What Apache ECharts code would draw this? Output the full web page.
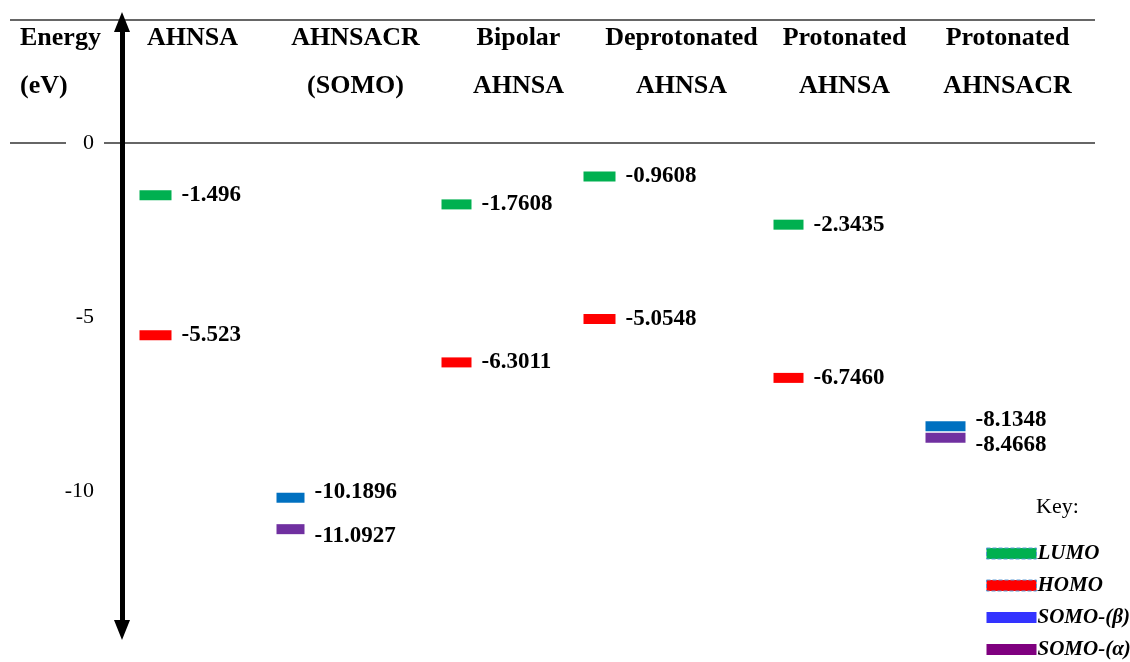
<!DOCTYPE html>
<html>
<head>
<meta charset="utf-8">
<script src="https://cdn.jsdelivr.net/npm/echarts@6/dist/echarts.min.js"></script>
<style>
  html, body { margin: 0; padding: 0; background: #fff; }
  #chart { width: 1130px; height: 662px; }
</style>
</head>
<body>
<div id="chart"></div>
<script>
// columns of the diagram
const categories = ['AHNSA\n ', 'AHNSACR\n(SOMO)', 'Bipolar\nAHNSA', 'Deprotonated\nAHNSA', 'Protonated\nAHNSA', 'Protonated\nAHNSACR'];

// orbital energies (eV), null = level not shown in that column
const lumo = [-1.496, null, -1.7608, -0.9608, -2.3435, null];
const homo = [-5.523, null, -6.3011, -5.0548, -6.746, null];
const somoBeta = [null, -10.1896, null, null, null, -8.1348];
const somoAlpha = [null, -11.0927, null, null, null, -8.4668];

// printed labels, as in the original
const lumoText = ['-1.496', '', '-1.7608', '-0.9608', '-2.3435', ''];
const homoText = ['-5.523', '', '-6.3011', '-5.0548', '-6.7460', ''];
const somoBetaText = ['', '-10.1896', '', '', '', '-8.1348'];
const somoAlphaText = ['', '-11.0927', '', '', '', '-8.4668'];

const yTicks = [0, -5, -10];

// level marks sit left of each column centre
const colShift = [-37, -65, -62, -82, -56, -62];
const colWidth = [32, 28, 30, 32, 30, 40];

const serif = 'Liberation Serif';

function levelData(values) {
  return values.map((v, i) => v == null ? null : {
    value: [i, v],
    symbolOffset: [colShift[i], 0],
    symbolSize: [colWidth[i], 10]
  }).filter(d => d);
}

function levelSeries(name, values, texts, color, labelDy) {
  return {
    name: name,
    type: 'scatter',
    symbol: 'rect',
    itemStyle: { color: color, opacity: 1 },
    data: levelData(values),
    label: {
      show: true,
      position: 'right',
      distance: 10,
      offset: [0, labelDy],
      formatter: p => texts[p.value[0]],
      fontFamily: serif,
      fontWeight: 'bold',
      fontSize: 23,
      color: '#000'
    },
    emphasis: { disabled: true }
  };
}

const myChart = echarts.init(document.getElementById('chart'));

const option = {
  animation: false,
  grid: { left: 111, right: 41, top: 22, bottom: 32 },
  xAxis: {
    type: 'category',
    data: categories,
    position: 'top',
    offset: -90,
    axisLine: { show: false },
    axisTick: { show: false },
    splitLine: { show: false },
    axisLabel: {
      interval: 0,
      margin: 2,
      fontFamily: serif,
      fontWeight: 'bold',
      fontSize: 26,
      lineHeight: 48,
      color: '#000'
    }
  },
  yAxis: {
    type: 'value',
    min: -13.99,
    max: 3.48,
    offset: -11,
    name: '{a|Energy}\n{a|(eV)}',
    nameLocation: 'end',
    nameGap: 8,
    nameTextStyle: {
      align: 'right',
      verticalAlign: 'top',
      padding: [0, 16, 0, 0],
      rich: {
        a: {
          width: 86,
          align: 'left',
          fontFamily: serif,
          fontWeight: 'bold',
          fontSize: 26,
          lineHeight: 48,
          color: '#000'
        }
      }
    },
    axisLine: {
      show: true,
      symbol: ['triangle', 'triangle'],
      symbolSize: [16, 20],
      lineStyle: { color: '#000', width: 5 }
    },
    axisTick: { show: false },
    splitLine: { show: false },
    axisLabel: {
      customValues: yTicks,
      margin: 28,
      fontFamily: serif,
      fontSize: 22,
      color: '#000'
    }
  },
  legend: {
    orient: 'vertical',
    left: 986,
    top: 543,
    padding: 0,
    icon: 'rect',
    itemWidth: 50,
    itemHeight: 11,
    itemGap: 11,
    selectedMode: false,
    textStyle: {
      fontFamily: serif,
      fontStyle: 'italic',
      fontWeight: 'bold',
      fontSize: 21,
      color: '#000',
      padding: [0, 0, 0, -4]
    },
    data: [
      { name: 'LUMO', itemStyle: { color: '#00b050', borderColor: '#5b9bd5', borderType: 'dashed', borderWidth: 1 } },
      { name: 'HOMO', itemStyle: { color: '#ff0000', borderColor: '#5b9bd5', borderType: 'dashed', borderWidth: 1 } },
      { name: 'SOMO-(β)', itemStyle: { color: '#3333ff' } },
      { name: 'SOMO-(α)', itemStyle: { color: '#7f007f' } }
    ]
  },
  series: [
    levelSeries('LUMO', lumo, lumoText, '#00b050', 0),
    levelSeries('HOMO', homo, homoText, '#ff0000', 0),
    levelSeries('SOMO-(β)', somoBeta, somoBetaText, '#0070c0', -6),
    levelSeries('SOMO-(α)', somoAlpha, somoAlphaText, '#7030a0', 7)
  ]
};

myChart.setOption(option);

// table rules: header top line and the zero-energy line
const yZero = myChart.convertToPixel({ yAxisIndex: 0 }, 0);
const rule = { stroke: '#333', lineWidth: 1.5 };
myChart.setOption({
  graphic: [
    { type: 'line', z: -1, shape: { x1: 10, y1: 20, x2: 1095, y2: 20 }, style: rule },
    { type: 'line', z: -1, shape: { x1: 10, y1: yZero, x2: 66, y2: yZero }, style: rule },
    { type: 'line', z: -1, shape: { x1: 104, y1: yZero, x2: 1095, y2: yZero }, style: rule },
    {
      type: 'text', left: 1036, top: 496,
      style: { text: 'Key:', font: '22px "Liberation Serif"', fill: '#000' }
    }
  ]
});
</script>
</body>
</html>
